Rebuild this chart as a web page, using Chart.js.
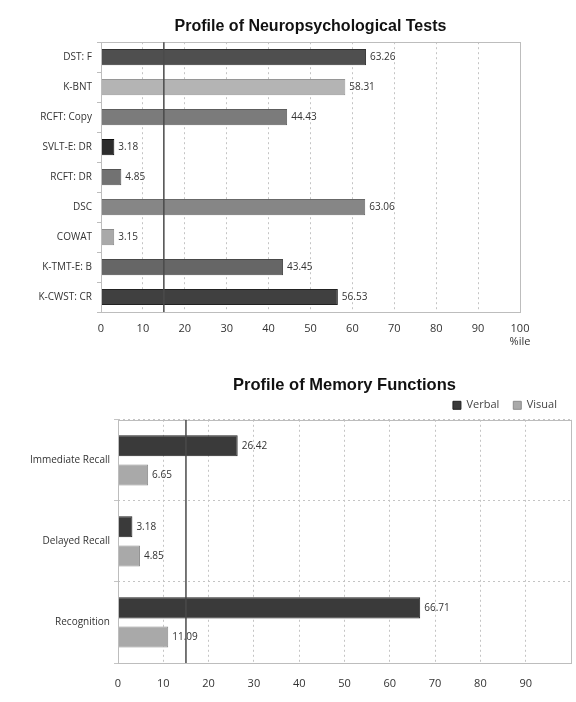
<!DOCTYPE html>
<html>
<head>
<meta charset="utf-8">
<script src="https://cdn.jsdelivr.net/npm/chart.js@4"></script>
<style>
html, body { margin: 0; padding: 0; background: #fff; width: 576px; height: 702px; overflow: hidden; position: relative; }
#box1 { position: absolute; left: 0; top: 0; width: 576px; height: 355px; }
#box2 { position: absolute; left: 0; top: 355px; width: 640px; height: 347px; }
</style>
</head>
<body>
<div id="box1"><canvas id="testChart"></canvas></div>
<div id="box2"><canvas id="memoryChart"></canvas></div>
<script>
const testLabels = ["DST: F", "K-BNT", "RCFT: Copy", "SVLT-E: DR", "RCFT: DR", "DSC", "COWAT", "K-TMT-E: B", "K-CWST: CR"]
const testValues = [63.26, 58.31, 44.43, 3.18, 4.85, 63.06, 3.15, 43.45, 56.53]
const testColors = ["#4f4f4f", "#b4b4b4", "#7b7b7b", "#2c2c2c", "#727272", "#868686", "#a9a9a9", "#666666", "#404040"]

const memoryLabels = ["Immediate Recall", "Delayed Recall", "Recognition"]
const verbalValues = [26.42, 3.18, 66.71]
const visualValues = [6.65, 4.85, 11.09]

const cutoff = 15
const xMin = 0
const xMax = 100
const xStep = 10

Chart.defaults.font.family = "'Open Sans', sans-serif"
Chart.defaults.font.size = 10
Chart.defaults.color = "#333"

// frame, cutoff line and value labels
const extras = {
  id: "extras",
  afterDatasetsDraw(chart) {
    const ctx = chart.ctx
    const a = chart.chartArea
    const x = chart.scales.x
    ctx.save()
    ctx.strokeStyle = "#bdbdbd"
    ctx.lineWidth = 1
    ctx.strokeRect(Math.round(a.left) + 0.5, Math.round(a.top) + 0.5, Math.round(a.width), Math.round(a.height))

    ctx.fillStyle = "#333"
    ctx.font = "10px 'Open Sans', sans-serif"
    ctx.textBaseline = "middle"
    chart.data.datasets.forEach((ds, i) => {
      chart.getDatasetMeta(i).data.forEach((bar, j) => {
        ctx.fillText(ds.data[j].toFixed(2), bar.x + 4, bar.y)
      })
    })

    const px = x.getPixelForValue(cutoff)
    ctx.strokeStyle = "#4a4a4a"
    ctx.lineWidth = 1.5
    ctx.beginPath()
    ctx.moveTo(px, a.top)
    ctx.lineTo(px, a.bottom)
    ctx.stroke()
    ctx.restore()
  }
}

const darker = c => {
  const n = parseInt(c.slice(1), 16)
  const v = Math.max(0, (n & 255) - 30)
  return "rgb(" + v + "," + v + "," + v + ")"
}

new Chart(document.getElementById("testChart"), {
  type: "bar",
  data: {
    labels: testLabels,
    datasets: [{
      data: testValues,
      backgroundColor: testColors,
      borderColor: testColors.map(darker),
      borderWidth: 1,
      categoryPercentage: 0.6,
      barPercentage: 0.9
    }]
  },
  options: {
    indexAxis: "y",
    responsive: true,
    maintainAspectRatio: false,
    animation: false,
    layout: { padding: { left: 0, right: 56, top: 0, bottom: 5 } },
    plugins: {
      legend: { display: false },
      tooltip: { enabled: false },
      title: {
        display: true,
        fullSize: false,
        text: "Profile of Neuropsychological Tests",
        color: "#111",
        font: { family: "'Liberation Sans', Arial, sans-serif", size: 16, weight: "bold" },
        padding: { top: 17, bottom: 6 }
      }
    },
    scales: {
      x: {
        min: xMin, max: xMax,
        border: { display: false, dash: [2, 3] },
        grid: { color: "#c4c4c4", drawTicks: false },
        ticks: {
          stepSize: xStep, padding: 10, font: { size: 11 },
          callback: v => v === xMax ? [String(v), "%ile"] : v
        },
        afterFit: s => { s.height = 38 }
      },
      y: {
        border: { display: false },
        grid: { drawOnChartArea: false, color: "#bdbdbd", tickLength: 4 },
        ticks: { padding: 5 },
        afterFit: s => { s.width = 101 }
      }
    }
  },
  plugins: [extras]
})

new Chart(document.getElementById("memoryChart"), {
  type: "bar",
  data: {
    labels: memoryLabels,
    datasets: [
      {
        label: "Verbal",
        data: verbalValues,
        backgroundColor: "#3a3a3a",
        borderColor: "#222",
        borderWidth: 1,
        categoryPercentage: 0.72,
        barPercentage: 0.72
      },
      {
        label: "Visual",
        data: visualValues,
        backgroundColor: "#a9a9a9",
        borderColor: "#8c8c8c",
        borderWidth: 1,
        categoryPercentage: 0.72,
        barPercentage: 0.72
      }
    ]
  },
  options: {
    indexAxis: "y",
    responsive: true,
    maintainAspectRatio: false,
    animation: false,
    layout: { padding: { left: 0, right: 69, top: 0, bottom: 9 } },
    plugins: {
      tooltip: { enabled: false },
      title: {
        display: true,
        fullSize: false,
        text: "Profile of Memory Functions",
        color: "#111",
        font: { family: "'Liberation Sans', Arial, sans-serif", size: 16.5, weight: "bold" },
        padding: { top: 21, bottom: -10 }
      },
      legend: {
        position: "top",
        align: "end",
        fullSize: false,
        maxHeight: 34,
        labels: {
          boxWidth: 8, boxHeight: 8, padding: 14,
          font: { size: 11 }, color: "#444"
        }
      }
    },
    scales: {
      x: {
        min: xMin, max: xMax,
        border: { display: false, dash: [2, 3] },
        grid: { color: "#c4c4c4", drawTicks: false },
        ticks: {
          stepSize: xStep, padding: 14, font: { size: 11 },
          callback: v => v === xMax ? "" : v
        },
        afterFit: s => { s.height = 30 }
      },
      y: {
        border: { display: false, dash: [2, 3] },
        grid: { color: "#c4c4c4", tickLength: 4 },
        ticks: { padding: 4 },
        afterFit: s => { s.width = 118 }
      }
    }
  },
  plugins: [extras]
})
</script>
</body>
</html>
